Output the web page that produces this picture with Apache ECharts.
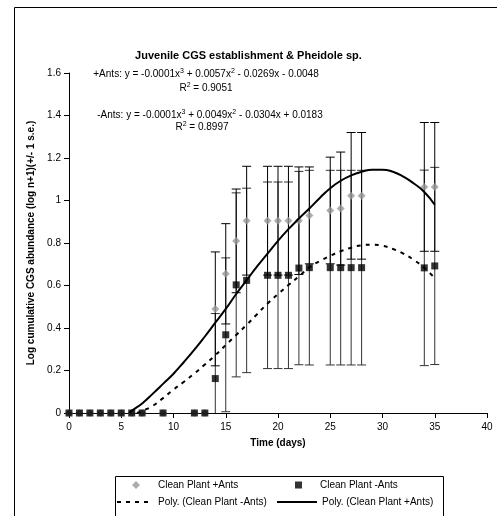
<!DOCTYPE html>
<html>
<head>
<meta charset="utf-8">
<title>Juvenile CGS establishment & Pheidole sp.</title>
<script src="https://cdn.jsdelivr.net/npm/echarts@6/dist/echarts.min.js"></script>
<style>
  html, body { margin: 0; padding: 0; background: #fff; }
  #chart { width: 497px; height: 516px; }
</style>
</head>
<body>
<div id="chart"></div>
<script>
// sampling days (both treatments)
const days = [0, 1, 2, 3, 4, 5, 6, 7, 9, 12, 13, 14, 15, 16, 17, 19, 20, 21, 22, 23, 25, 26, 27, 28, 34, 35];

// Clean Plant +Ants: mean log(n+1) and 1 s.e.
const plusAnts = [0, 0, 0, 0, 0, 0, 0, 0, 0, 0, 0, 0.49, 0.655, 0.81, 0.905, 0.905, 0.905, 0.905, 0.905, 0.93, 0.953, 0.962, 1.022, 1.022, 1.064, 1.064];
const plusSE = [0, 0, 0, 0, 0, 0, 0, 0, 0, 0, 0, 0.268, 0.236, 0.244, 0.256, 0.256, 0.256, 0.256, 0.253, 0.228, 0.251, 0.266, 0.298, 0.298, 0.303, 0.303];

// Clean Plant -Ants
const minusAnts = [0, 0, 0, 0, 0, 0, 0, 0, 0, 0, 0, 0.162, 0.368, 0.603, 0.624, 0.648, 0.648, 0.648, 0.682, 0.684, 0.684, 0.684, 0.684, 0.684, 0.683, 0.692];
const minusSE = [0, 0, 0, 0, 0, 0, 0, 0, 0, 0, 0, 0.306, 0.362, 0.433, 0.434, 0.439, 0.439, 0.439, 0.455, 0.458, 0.458, 0.458, 0.458, 0.458, 0.46, 0.464];

// 3rd order poly trendlines
const plusFitX = [5.8, 6, 7, 8, 9, 10, 11, 12, 13, 14, 15, 16, 17, 18, 19, 20, 21, 22, 23, 24, 25, 26, 27, 28, 29, 30, 31, 32, 33, 34, 35];
const plusFitY = [0, 0.01, 0.045, 0.09, 0.137, 0.185, 0.24, 0.298, 0.36, 0.425, 0.49, 0.56, 0.625, 0.69, 0.75, 0.81, 0.865, 0.915, 0.962, 1.012, 1.058, 1.093, 1.118, 1.135, 1.145, 1.145, 1.135, 1.112, 1.08, 1.04, 0.98];
const minusFitX = [6.5, 7, 8, 9, 10, 11, 12, 13, 14, 15, 16, 17, 18, 19, 20, 21, 22, 23, 24, 25, 26, 27, 28, 29, 30, 31, 32, 33, 34, 35];
const minusFitY = [0, 0.01, 0.033, 0.07, 0.11, 0.147, 0.186, 0.228, 0.272, 0.32, 0.367, 0.415, 0.465, 0.515, 0.56, 0.602, 0.643, 0.685, 0.715, 0.74, 0.761, 0.778, 0.789, 0.792, 0.787, 0.772, 0.75, 0.72, 0.683, 0.635];

const xTicks = [0, 40, 5];      // min, max, interval
const yTicks = [0, 1.6, 0.2];

const FONT = 'Liberation Sans';

function zip(xs, ys) {
  return xs.map((x, i) => [x, ys[i]]);
}

// error bar rows: [day, low, high, hasLowCap]
function errRows(vals, se) {
  const rows = [];
  days.forEach((d, i) => {
    if (se[i] > 0) {
      const lo = vals[i] - se[i];
      rows.push([d, Math.max(0, lo), vals[i] + se[i], lo >= 0 ? 1 : 0]);
    }
  });
  return rows;
}

function errorBar(color) {
  return function (params, api) {
    const top = api.coord([api.value(0), api.value(2)]);
    const bot = api.coord([api.value(0), api.value(1)]);
    const w = 4.5;
    const style = { stroke: color, lineWidth: 1 };
    const children = [
      { type: 'line', shape: { x1: top[0], y1: top[1], x2: bot[0], y2: bot[1] }, style: style },
      { type: 'line', shape: { x1: top[0] - w, y1: top[1], x2: top[0] + w, y2: top[1] }, style: style }
    ];
    if (api.value(3)) {
      children.push({ type: 'line', shape: { x1: bot[0] - w, y1: bot[1], x2: bot[0] + w, y2: bot[1] }, style: style });
    }
    return { type: 'group', children: children };
  };
}

// equation label with raised exponents
function eqLabel(x, y, text) {
  return {
    type: 'text', x: x, y: y,
    style: {
      text: text,
      align: 'center',
      verticalAlign: 'middle',
      fontFamily: FONT,
      fontSize: 10,
      lineHeight: 12,
      fill: '#000',
      rich: {
        s: { fontFamily: FONT, fontSize: 7, lineHeight: 12, verticalAlign: 'top', padding: [0, 0, 4, 0] }
      }
    }
  };
}

const chart = echarts.init(document.getElementById('chart'));

const legendText = { fontFamily: FONT, fontSize: 10, color: '#000' };
const markerLegendText = Object.assign({}, legendText, { padding: [0, 0, 0, 13] });

const option = {
  animation: false,
  backgroundColor: '#fff',
  title: {
    text: 'Juvenile CGS establishment & Pheidole sp.',
    left: 'center',
    top: 45,
    textStyle: { fontFamily: FONT, fontSize: 11, fontWeight: 'bold', color: '#000' }
  },
  grid: { left: 69, right: 10, top: 73, bottom: 103 },
  xAxis: {
    type: 'value',
    min: xTicks[0], max: xTicks[1], interval: xTicks[2],
    name: 'Time (days)',
    nameLocation: 'middle',
    nameGap: 25,
    nameTextStyle: { fontFamily: FONT, fontSize: 10, fontWeight: 'bold', color: '#000' },
    axisLine: { lineStyle: { color: '#000', width: 1 } },
    axisTick: { length: 5, lineStyle: { color: '#000' } },
    axisLabel: { fontFamily: FONT, fontSize: 10, color: '#000', margin: 9 },
    splitLine: { show: false }
  },
  yAxis: {
    type: 'value',
    min: yTicks[0], max: yTicks[1], interval: yTicks[2],
    name: 'Log cumulative CGS abundance (log n+1)(+/- 1 s.e.)',
    nameLocation: 'middle',
    nameGap: 27,
    nameTextStyle: { fontFamily: FONT, fontSize: 10, fontWeight: 'bold', color: '#000' },
    axisLine: { show: true, lineStyle: { color: '#000', width: 1 } },
    axisTick: { show: true, length: 5, lineStyle: { color: '#000' } },
    axisLabel: { fontFamily: FONT, fontSize: 10, color: '#000', margin: 8 },
    splitLine: { show: false }
  },
  legend: [
    { data: ['Clean Plant +Ants'], left: 132, top: 480, padding: 0, itemWidth: 8, itemHeight: 8, textStyle: markerLegendText, selectedMode: false },
    { data: ['Clean Plant -Ants'], left: 295, top: 480, padding: 0, itemWidth: 7, itemHeight: 7, textStyle: markerLegendText, selectedMode: false },
    { data: ['Poly. (Clean Plant -Ants)'], left: 116, top: 497, padding: 0, itemWidth: 36, itemHeight: 10, itemStyle: { opacity: 0 }, textStyle: legendText, selectedMode: false },
    { data: ['Poly. (Clean Plant +Ants)'], left: 276, top: 497, padding: 0, itemWidth: 40, itemHeight: 10, itemStyle: { opacity: 0 }, textStyle: legendText, selectedMode: false }
  ],
  graphic: [
    // outer chart border
    { type: 'rect', left: 12, top: 5, shape: { width: 520, height: 530 }, style: { fill: 'none', stroke: '#000', lineWidth: 1 }, silent: true, z: -1 },
    // legend frame
    { type: 'rect', left: 113, top: 474, shape: { width: 328, height: 40 }, style: { fill: 'none', stroke: '#000', lineWidth: 1 }, silent: true },
    eqLabel(206, 74, '+Ants: y = -0.0001x{s|3} + 0.0057x{s|2} - 0.0269x - 0.0048'),
    eqLabel(206, 88, 'R{s|2} = 0.9051'),
    eqLabel(210, 115, '-Ants: y = -0.0001x{s|3} + 0.0049x{s|2} - 0.0304x + 0.0183'),
    eqLabel(202, 127, 'R{s|2} = 0.8997')
  ],
  series: [
    {
      name: 'err -Ants',
      type: 'custom',
      renderItem: errorBar('#333'),
      data: errRows(minusAnts, minusSE),
      encode: { x: 0, y: [1, 2] },
      silent: true,
      z: 1
    },
    {
      name: 'err +Ants',
      type: 'custom',
      renderItem: errorBar('#000'),
      data: errRows(plusAnts, plusSE),
      encode: { x: 0, y: [1, 2] },
      silent: true,
      z: 1
    },
    {
      name: 'Clean Plant +Ants',
      type: 'scatter',
      symbol: 'diamond',
      symbolSize: 8,
      itemStyle: { color: '#999999' },
      data: zip(days, plusAnts),
      z: 3
    },
    {
      name: 'Clean Plant -Ants',
      type: 'scatter',
      symbol: 'rect',
      symbolSize: 7,
      itemStyle: { color: '#000' },
      data: zip(days, minusAnts),
      z: 4
    },
    {
      name: 'Poly. (Clean Plant -Ants)',
      type: 'line',
      smooth: true,
      symbol: 'none',
      lineStyle: { color: '#000', width: 2, type: [4, 5] },
      itemStyle: { color: '#000' },
      data: zip(minusFitX, minusFitY),
      z: 5
    },
    {
      name: 'Poly. (Clean Plant +Ants)',
      type: 'line',
      smooth: true,
      symbol: 'none',
      lineStyle: { color: '#000', width: 2 },
      itemStyle: { color: '#000' },
      data: zip(plusFitX, plusFitY),
      z: 5
    }
  ]
};

chart.setOption(option);
</script>
</body>
</html>
